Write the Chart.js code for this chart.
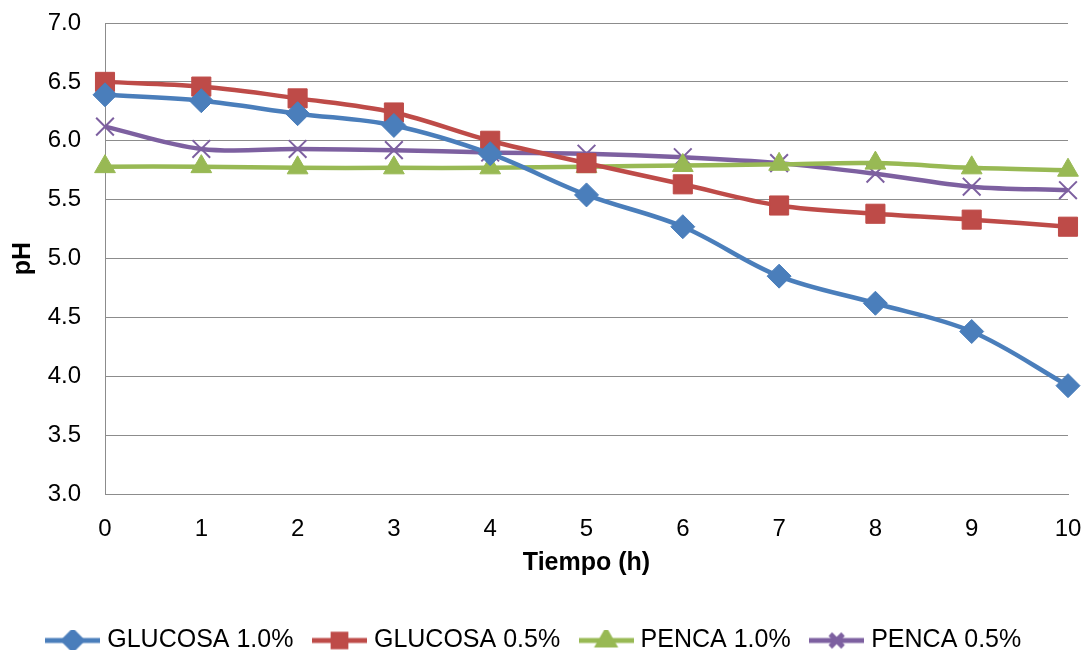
<!DOCTYPE html>
<html>
<head>
<meta charset="utf-8">
<script src="https://cdn.jsdelivr.net/npm/chart.js@4"></script>
<style>
  html, body { margin: 0; padding: 0; background: #fff; }
  #wrap { width: 1086px; height: 650px; position: relative; }
</style>
</head>
<body>
<div id="wrap"><canvas id="chart"></canvas></div>
<script>
// data
const tiempo = ["0", "1", "2", "3", "4", "5", "6", "7", "8", "9", "10"];
const glucosa10 = [6.39, 6.34, 6.23, 6.13, 5.89, 5.54, 5.27, 4.85, 4.62, 4.38, 3.92];
const glucosa05 = [6.50, 6.46, 6.36, 6.24, 6.00, 5.81, 5.63, 5.45, 5.38, 5.33, 5.27];
const penca10 = [5.78, 5.78, 5.77, 5.77, 5.77, 5.78, 5.79, 5.80, 5.81, 5.77, 5.75];
const penca05 = [6.12, 5.93, 5.93, 5.92, 5.90, 5.89, 5.86, 5.81, 5.72, 5.61, 5.58];
const seriesNames = ["GLUCOSA 1.0%", "GLUCOSA 0.5%", "PENCA 1.0%", "PENCA 0.5%"];
const colors = ["#4A7EBB", "#BE4B48", "#98B954", "#7D60A0"];
const markers = ["rectRot", "rect", "triangle", "crossRot"];
const radii = [12, 13.5, 12, 12.5];

const font = "'Liberation Sans', Arial, sans-serif";

// legend swatch: a short line with the marker on it
function legendSwatch(color, style) {
    let c = document.createElement("canvas");
    c.width = 55; c.height = 22;
    let g = c.getContext("2d");
    g.strokeStyle = color; g.fillStyle = color;
    g.lineWidth = 5;
    g.beginPath(); g.moveTo(0, 11); g.lineTo(55, 11); g.stroke();
    Chart.helpers.drawPoint(g, { pointStyle: style, radius: 9, borderWidth: style === "crossRot" ? 1.5 : 1, rotation: 0 }, 27.5, 11);
    if (style !== "crossRot") g.fill();
    return c;
}

let ctx = document.getElementById("chart").getContext("2d");
let allData = [glucosa10, glucosa05, penca10, penca05];

new Chart(ctx, {
    type: "line",
    data: {
        labels: tiempo,
        datasets: allData.map(function (d, i) {
            return {
                label: seriesNames[i],
                data: d,
                borderColor: colors[i],
                backgroundColor: colors[i],
                borderWidth: 4.5,
                tension: 0.35,
                clip: false,
                pointStyle: markers[i],
                pointRadius: radii[i],
                pointHoverRadius: radii[i],
                pointBorderWidth: markers[i] === "crossRot" ? 2 : 1,
                pointBackgroundColor: colors[i],
                pointBorderColor: colors[i]
            };
        })
    },
    options: {
        responsive: true,
        maintainAspectRatio: false,
        animation: false,
        layout: { autoPadding: false, padding: { left: 4, right: 18, top: 23, bottom: -13 } },
        plugins: {
            tooltip: { enabled: false },
            legend: {
                position: "bottom",
                labels: {
                    color: "#000",
                    font: { family: font, size: 25 },
                    usePointStyle: true,
                    pointStyleWidth: 44,
                    boxHeight: 22,
                    padding: 24,
                    generateLabels: function (chart) {
                        return chart.data.datasets.map(function (ds, i) {
                            return {
                                text: ds.label,
                                pointStyle: legendSwatch(colors[i], markers[i]),
                                fillStyle: colors[i],
                                strokeStyle: colors[i],
                                lineWidth: 0,
                                datasetIndex: i,
                                fontColor: "#000"
                            };
                        });
                    }
                }
            }
        },
        scales: {
            x: {
                offset: false,
                afterFit: function (scale) {
                    scale.height = 110;
                    scale.paddingLeft = 0;
                    scale.paddingRight = 0;
                },
                grid: { display: false, drawTicks: false },
                border: { color: "#8c8c8c", width: 1 },
                ticks: { color: "#000", font: { family: font, size: 24 }, padding: 21, maxRotation: 0 },
                title: { display: true, text: "Tiempo (h)", color: "#000", font: { family: font, size: 25, weight: "bold" }, padding: { top: 0, bottom: 26 } }
            },
            y: {
                min: 3.0,
                max: 7.0,
                afterFit: function (scale) {
                    scale.width = 101;
                    scale.paddingTop = 0;
                    scale.paddingBottom = 0;
                },
                grid: { color: "#8c8c8c", lineWidth: 1, drawTicks: false },
                border: { color: "#8c8c8c", width: 1 },
                ticks: {
                    stepSize: 0.5,
                    color: "#000",
                    font: { family: font, size: 24 },
                    padding: 24,
                    callback: function (v) { return Number(v).toFixed(1); }
                },
                title: { display: true, text: "pH", color: "#000", font: { family: font, size: 25, weight: "bold" }, padding: { top: 4, bottom: 10 } }
            }
        }
    }
});
</script>
</body>
</html>
